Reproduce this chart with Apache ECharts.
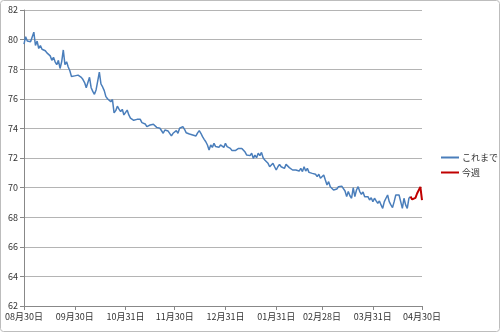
<!DOCTYPE html>
<html><head><meta charset="utf-8">
<script src="https://cdn.jsdelivr.net/npm/echarts@6/dist/echarts.min.js"></script>
<style>html,body{margin:0;padding:0;background:#fff}#c{width:500px;height:332px}</style>
</head><body><div id="c"></div>
<script>
// Tick labels shown on the x axis
const tickLabels = ['08月30日','09月30日','10月31日','11月30日','12月31日','01月31日','02月28日','03月31日','04月30日'];
const yTicks = [62,64,66,68,70,72,74,76,78,80,82];
const seriesNames = ['これまで','今週'];
// Daily values (day 0 = 08/30)
const pastValues = [
79.7,80.2,79.9,80.0,79.85,79.95,80.5,79.6,79.9,79.4,
79.6,79.35,79.3,79.25,79.1,79.0,78.9,78.6,78.8,78.5,
78.3,78.6,78.05,78.5,79.3,78.3,78.5,78.15,77.9,77.5,
77.55,77.55,77.6,77.6,77.65,77.45,77.3,77.1,76.75,76.85,
77.45,76.75,76.5,76.3,76.6,77.2,77.8,77.0,76.8,76.55,
76.15,76.0,75.95,75.8,75.95,75.05,75.2,75.5,75.3,75.13,
75.29,74.91,75.02,75.24,74.91,74.7,74.57,74.55,74.52,74.61,
74.5,74.61,74.39,74.46,74.3,74.12,74.2,74.23,74.34,74.28,
74.23,74.07,74.05,74.01,73.89,73.67,73.89,73.78,73.82,73.85,
73.49,73.67,73.74,73.85,73.67,74.01,74.12,74.12,73.94,73.71,
73.65,73.62,73.58,73.56,73.49,73.49,73.7,73.85,73.67,73.44,
73.26,73.1,72.88,72.54,72.88,72.72,72.99,72.77,72.88,72.72,
72.88,72.77,72.72,72.99,72.77,72.81,72.65,72.5,72.43,72.5,
72.59,72.65,72.63,72.65,72.58,72.4,72.2,72.25,72.16,72.32,
71.98,72.2,72.02,72.32,72.16,72.38,72.02,71.86,71.75,71.64,
71.41,71.3,71.64,71.41,71.19,71.41,71.57,71.41,71.35,71.3,
71.57,71.48,71.35,71.3,71.19,71.3,71.19,71.3,71.12,71.3,
71.08,71.41,71.12,71.3,71.03,70.9,70.96,70.85,70.9,70.74,
70.9,70.63,70.74,70.85,70.51,70.18,70.4,70.06,69.95,69.84,
69.77,69.91,70.06,70.15,70.1,70.0,69.77,69.39,69.73,69.45,
69.28,69.99,69.39,69.84,70.06,69.73,69.55,69.7,69.39,69.28,
69.39,69.16,69.32,69.05,69.28,69.1,68.94,69.1,68.83,68.6,
69.05,69.28,69.5,69.05,68.83,68.65,69.05,69.5,69.61,69.5,
69.05,68.6,69.28,68.83,68.6,69.28,69.39
];
const weekStart = 236;
const weekValues = [69.39,69.2,69.1,69.3,69.6,69.5,70.05,69.16];

// categories: one per day from 08/30 to 04/30
const categories = [];
{
  const d0 = Date.UTC(2010,7,30);
  for (let i = 0; i <= 243; i++) {
    const d = new Date(d0 + i*86400000);
    const m = String(d.getUTCMonth()+1).padStart(2,'0');
    const dd = String(d.getUTCDate()).padStart(2,'0');
    categories.push(m + '月' + dd + '日');
  }
}
const pastData = categories.map((c,i) => i < pastValues.length ? pastValues[i] : null);
const weekData = categories.map((c,i) => (i >= weekStart && i - weekStart < weekValues.length) ? weekValues[i-weekStart] : null);
const showTick = (idx, val) => tickLabels.indexOf(val) >= 0;

const chart = echarts.init(document.getElementById('c'), null, {renderer:'canvas'});
const font = '"Noto Sans CJK JP", "Noto Sans", sans-serif';
chart.setOption({
  animation: false,
  backgroundColor: '#fff',
  graphic: [{type:'rect', shape:{x:0.5,y:0.5,width:499,height:331,r:3}, style:{fill:'none', stroke:'#bdbdbd', lineWidth:1}, z:-1}],
  grid: {left:24, right:78, top:10, bottom:26, containLabel:false},
  legend: {
    orient:'vertical', left:436, top:148, itemWidth:18, itemHeight:2, itemGap:6,
    icon:'rect',
    textStyle:{fontFamily:font, fontSize:9, color:'#333', padding:[0,0,0,-2]},
    data: seriesNames
  },
  xAxis: {
    type:'category', data:categories, boundaryGap:false,
    axisLine:{lineStyle:{color:'#888'}},
    axisTick:{show:true, interval:showTick, length:4, lineStyle:{color:'#888'}},
    axisLabel:{interval:showTick, fontFamily:font, fontSize:9, color:'#333', margin:6, hideOverlap:false}
  },
  yAxis: {
    type:'value', min:yTicks[0], max:yTicks[yTicks.length-1], interval:2,
    axisLine:{show:true, lineStyle:{color:'#888'}},
    axisTick:{show:true, length:4, lineStyle:{color:'#888'}},
    splitLine:{lineStyle:{color:'#b4b4b4'}},
    axisLabel:{fontFamily:font, fontSize:9, color:'#333', margin:6}
  },
  series: [
    {name:seriesNames[0], type:'line', data:pastData, symbol:'none', color:'#4a7ebb', lineStyle:{width:1.5, color:'#4a7ebb'}},
    {name:seriesNames[1], type:'line', data:weekData, symbol:'none', color:'#c00000', lineStyle:{width:2, color:'#c00000'}}
  ]
});
</script></body></html>
